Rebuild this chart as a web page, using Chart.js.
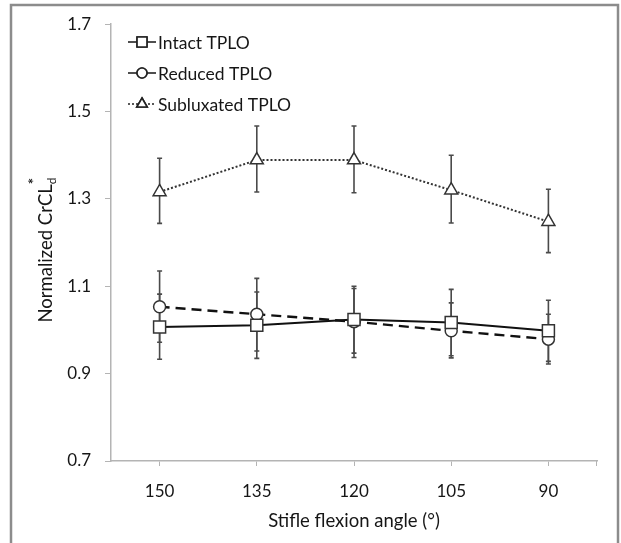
<!DOCTYPE html>
<html>
<head>
<meta charset="utf-8">
<script src="https://cdn.jsdelivr.net/npm/chart.js@4"></script>
<style>
  html, body { margin: 0; padding: 0; background: #fff; }
  #wrap { width: 621px; height: 543px; }
</style>
</head>
<body>
<div id="wrap"><canvas id="chart" width="621" height="543"></canvas></div>
<script>
// stifle flexion angle categories (deg), left to right
var angles = ["150", "135", "120", "105", "90"];

// normalized CrCL_d means and error bar ends per group
var intact     = [1.007, 1.011, 1.024, 1.017, 0.998];
var intactHi   = [1.082, 1.087, 1.100, 1.093, 1.068];
var intactLo   = [0.933, 0.935, 0.947, 0.941, 0.928];

var reduced    = [1.053, 1.036, 1.019, 0.998, 0.979];
var reducedHi  = [1.135, 1.118, 1.095, 1.062, 1.036];
var reducedLo  = [0.972, 0.952, 0.937, 0.936, 0.922];

var sublux     = [1.316, 1.389, 1.389, 1.320, 1.248];
var subluxHi   = [1.393, 1.467, 1.467, 1.400, 1.322];
var subluxLo   = [1.244, 1.316, 1.314, 1.245, 1.177];

var yTicks = [0.7, 0.9, 1.1, 1.3, 1.5, 1.7];

var FONT = "Lato, 'Open Sans', sans-serif";
var TEXT = "#161616";
var AXIS = "#b4b4b4";

// whiskers are drawn before the datasets so the white markers sit on top
var errorBars = {
  id: "errorBars",
  beforeDatasetsDraw: function (chart) {
    var ctx = chart.ctx;
    var ys = chart.scales.y;
    var ranges = [[intactLo, intactHi], [reducedLo, reducedHi], [subluxLo, subluxHi]];
    ctx.save();
    ctx.strokeStyle = "#4a4a4a";
    ctx.lineWidth = 1.6;
    ranges.forEach(function (r, di) {
      var meta = chart.getDatasetMeta(di);
      meta.data.forEach(function (pt, i) {
        var yTop = ys.getPixelForValue(r[1][i]);
        var yBot = ys.getPixelForValue(r[0][i]);
        ctx.beginPath();
        ctx.moveTo(pt.x, yTop); ctx.lineTo(pt.x, yBot);
        ctx.moveTo(pt.x - 2.5, yTop); ctx.lineTo(pt.x + 2.5, yTop);
        ctx.moveTo(pt.x - 2.5, yBot); ctx.lineTo(pt.x + 2.5, yBot);
        ctx.stroke();
      });
    });
    ctx.restore();
  }
};

// outer frame, axis end tick, y title with sub/superscript, and the key
var decor = {
  id: "decor",
  beforeDraw: function (chart) {
    var ctx = chart.ctx;
    ctx.save();
    ctx.fillStyle = "#fff";
    ctx.fillRect(0, 0, chart.width, chart.height);
    ctx.strokeStyle = "#8c8c8c";
    ctx.lineWidth = 2.5;
    ctx.strokeRect(11, 5, 607, 600);
    ctx.restore();
  },
  afterDraw: function (chart) {
    var ctx = chart.ctx;
    var a = chart.chartArea;
    ctx.save();

    ctx.strokeStyle = AXIS;
    ctx.lineWidth = 1;
    ctx.beginPath();
    ctx.moveTo(a.right - 0.5, a.bottom);
    ctx.lineTo(a.right - 0.5, a.bottom + 5);
    ctx.stroke();

    // y axis title
    ctx.translate(46, 250);
    ctx.rotate(-Math.PI / 2);
    ctx.fillStyle = TEXT;
    ctx.textBaseline = "alphabetic";
    ctx.font = "18.5px " + FONT;
    var main = "Normalized CrCL";
    var wMain = ctx.measureText(main).width;
    ctx.font = "12px " + FONT;
    var wSub = ctx.measureText("d").width;
    var x0 = -(wMain + wSub) / 2;
    ctx.font = "18.5px " + FONT;
    ctx.fillText(main, x0, 6);
    ctx.font = "12px " + FONT;
    ctx.fillText("d", x0 + wMain, 10);
    ctx.font = "bold 15px " + FONT;
    ctx.fillText("*", x0 + wMain, -7);
    ctx.restore();

    // key: short line, marker, line, then label
    var rows = [
      { label: "Intact TPLO", style: "rect", r: 7, dash: [], y: 42 },
      { label: "Reduced TPLO", style: "circle", r: 5, dash: [], y: 73 },
      { label: "Subluxated TPLO", style: "triangle", r: 6, dash: [2, 2], y: 104 }
    ];
    ctx.save();
    rows.forEach(function (row) {
      ctx.strokeStyle = "#222";
      ctx.lineWidth = 1.6;
      ctx.setLineDash(row.dash);
      ctx.beginPath();
      ctx.moveTo(128, row.y); ctx.lineTo(156, row.y);
      ctx.stroke();
      ctx.setLineDash([]);
      ctx.fillStyle = "#fff";
      Chart.helpers.drawPoint(ctx, {
        pointStyle: row.style, radius: row.r, rotation: 0, borderWidth: 1.4
      }, 142, row.y);
      ctx.fill();
      ctx.stroke();
      ctx.fillStyle = TEXT;
      ctx.font = "17.5px " + FONT;
      ctx.textBaseline = "middle";
      ctx.fillText(row.label, 158, row.y + 1);
    });
    ctx.restore();
  }
};

new Chart(document.getElementById("chart"), {
  type: "line",
  data: {
    labels: angles,
    datasets: [
      { label: "Intact TPLO", data: intact, borderColor: "#111", borderWidth: 2,
        pointStyle: "rect", pointRadius: 8.5, pointBorderWidth: 1.5,
        pointBackgroundColor: "#fff", pointBorderColor: "#333" },
      { label: "Reduced TPLO", data: reduced, borderColor: "#111", borderWidth: 2.4,
        borderDash: [10, 6], pointStyle: "circle", pointRadius: 6, pointBorderWidth: 1.5,
        pointBackgroundColor: "#fff", pointBorderColor: "#333" },
      { label: "Subluxated TPLO", data: sublux, borderColor: "#333", borderWidth: 2,
        borderDash: [2, 2], pointStyle: "triangle", pointRadius: 7.5, pointBorderWidth: 1.5,
        pointBackgroundColor: "#fff", pointBorderColor: "#333" }
    ]
  },
  options: {
    responsive: false,
    animation: false,
    events: [],
    layout: { padding: { left: 0, top: 24, right: 24, bottom: 0 } },
    plugins: { legend: { display: false }, tooltip: { enabled: false } },
    scales: {
      x: {
        offset: true,
        grid: { display: true, drawOnChartArea: false, offset: false, color: AXIS, tickLength: 5 },
        border: { color: AXIS, width: 1.5 },
        ticks: { color: TEXT, font: { family: FONT, size: 17 }, padding: 15, maxRotation: 0 },
        title: { display: true, text: "Stifle flexion angle (\u00b0)", color: TEXT,
                 font: { family: FONT, size: 18.5 }, padding: { top: 2, bottom: 11 } },
        afterFit: function (s) { s.height = 82; }
      },
      y: {
        min: 0.7, max: 1.7,
        afterBuildTicks: function (s) { s.ticks = yTicks.map(function (v) { return { value: v }; }); },
        grid: { display: true, drawOnChartArea: false, color: AXIS, tickLength: 6 },
        border: { color: AXIS, width: 1.5 },
        ticks: { color: TEXT, font: { family: FONT, size: 17 }, padding: 14,
                 callback: function (v) { return v.toFixed(1); } },
        afterFit: function (s) { s.width = 111; }
      }
    }
  },
  plugins: [errorBars, decor]
});
</script>
</body>
</html>
